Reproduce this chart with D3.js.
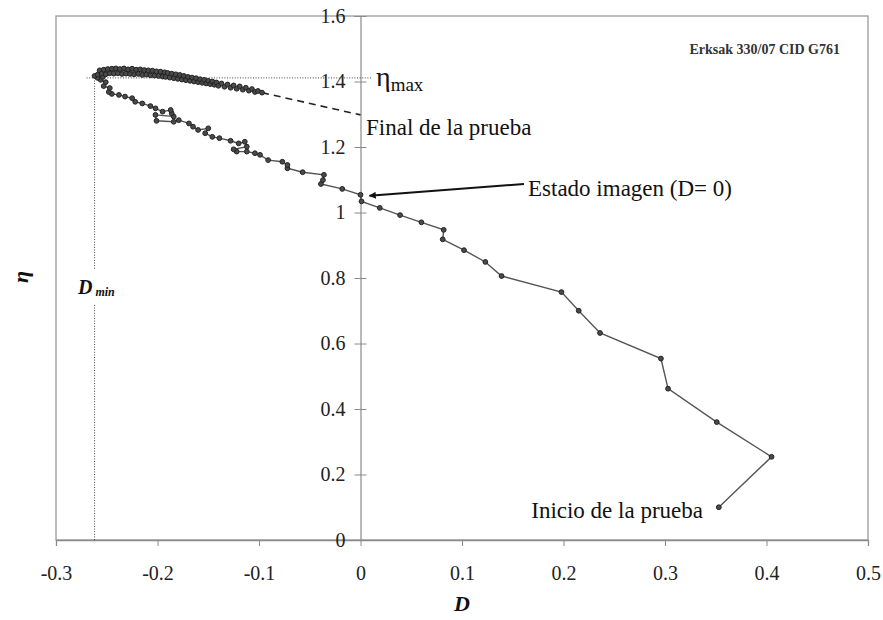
<!DOCTYPE html>
<html lang="es">
<head>
    <meta charset="UTF-8">
    <title>Erksak 330/07 CID G761</title>
    <script src="https://d3js.org/d3.v7.min.js"></script>
    <style>
        body {
            margin: 0;
            background: #fff;
            font-family: "Liberation Serif", "Times New Roman", serif;
        }
        svg text { font-family: "Liberation Serif", "Times New Roman", serif; }
        .axis-lbl { fill: #222; font-size: 20px; }
        .note { fill: #111; font-size: 23px; }
    </style>
</head>
<body>
    <div id="chart"></div>

    <script>
        // Test path, in time order: start -> D min -> end (upper band)
        const dValues = [
            0.353, 0.405, 0.351, 0.303, 0.296, 0.236, 0.215, 0.198, 0.139, 0.123,
            0.102, 0.081, 0.082, 0.060, 0.039, 0.019, 0.001, 0.000, -0.018, -0.039,
            -0.037, -0.036, -0.057, -0.072, -0.072, -0.077, -0.091, -0.099, -0.104, -0.112,
            -0.122, -0.125, -0.112, -0.114, -0.120, -0.128, -0.139, -0.146, -0.153, -0.150,
            -0.160, -0.165, -0.169, -0.179, -0.184, -0.201, -0.202, -0.184, -0.186, -0.187,
            -0.195, -0.202, -0.207, -0.215, -0.222, -0.225, -0.232, -0.238, -0.245, -0.248,
            -0.247, -0.253, -0.251, -0.256, -0.254, -0.259, -0.262,
            -0.259, -0.257, -0.255, -0.253, -0.251, -0.249, -0.247, -0.245, -0.243, -0.241,
            -0.239, -0.237, -0.235, -0.233, -0.231, -0.229, -0.227, -0.225, -0.223, -0.221,
            -0.219, -0.217, -0.215, -0.213, -0.211, -0.209, -0.207, -0.205, -0.203, -0.201,
            -0.199, -0.197, -0.195, -0.193, -0.192, -0.190, -0.188, -0.186, -0.184, -0.182,
            -0.180, -0.178, -0.176, -0.174, -0.172, -0.170, -0.168, -0.166, -0.164, -0.162,
            -0.160, -0.158, -0.156, -0.154, -0.152, -0.150, -0.148, -0.146, -0.144, -0.142,
            -0.140, -0.137, -0.134, -0.131, -0.128, -0.125, -0.122, -0.119, -0.116, -0.113,
            -0.110, -0.107, -0.104, -0.101, -0.097
        ];
        const etaValues = [
            0.100, 0.254, 0.360, 0.462, 0.554, 0.632, 0.700, 0.757, 0.806, 0.849,
            0.885, 0.918, 0.947, 0.970, 0.992, 1.014, 1.034, 1.054, 1.072, 1.087,
            1.099, 1.115, 1.123, 1.135, 1.145, 1.155, 1.160, 1.176, 1.181, 1.186,
            1.186, 1.193, 1.201, 1.216, 1.211, 1.219, 1.227, 1.231, 1.242, 1.257,
            1.252, 1.262, 1.272, 1.282, 1.277, 1.280, 1.298, 1.293, 1.303, 1.313,
            1.308, 1.318, 1.325, 1.333, 1.338, 1.349, 1.354, 1.359, 1.362, 1.368,
            1.380, 1.386, 1.398, 1.405, 1.414, 1.411, 1.417,
            1.421, 1.434, 1.424, 1.436, 1.422, 1.438, 1.425, 1.439, 1.424, 1.440,
            1.425, 1.438, 1.423, 1.440, 1.424, 1.437, 1.423, 1.439, 1.422, 1.436,
            1.423, 1.437, 1.420, 1.435, 1.421, 1.434, 1.419, 1.433, 1.418, 1.431,
            1.417, 1.430, 1.415, 1.428, 1.414, 1.426, 1.412, 1.424, 1.410, 1.422,
            1.408, 1.420, 1.406, 1.417, 1.404, 1.414, 1.402, 1.412, 1.400, 1.410,
            1.398, 1.407, 1.396, 1.405, 1.394, 1.402, 1.392, 1.400, 1.390, 1.397,
            1.387, 1.394, 1.384, 1.391, 1.381, 1.388, 1.378, 1.385, 1.375, 1.381,
            1.372, 1.377, 1.368, 1.371, 1.366
        ];

        const xTicks = [-0.3, -0.2, -0.1, 0, 0.1, 0.2, 0.3, 0.4, 0.5];
        const yTicks = [0, 0.2, 0.4, 0.6, 0.8, 1, 1.2, 1.4, 1.6];

        const dMin = -0.262;
        const etaMax = 1.411;
        const dashEnd = [0, 1.298];   // end of the "Final de la prueba" leader

        const width = 883, height = 620;
        const margin = {top: 16, right: 15, bottom: 80, left: 56};

        const svg = d3.select('#chart').append('svg')
            .attr('width', width)
            .attr('height', height);

        const x = d3.scaleLinear().domain([-0.3, 0.5]).range([margin.left, width - margin.right]);
        const y = d3.scaleLinear().domain([0, 1.6]).range([height - margin.bottom, margin.top]);

        const points = dValues.map((d, i) => [d, etaValues[i]]);

        // plot frame
        svg.append('rect')
            .attr('x', x(-0.3)).attr('y', y(1.6))
            .attr('width', x(0.5) - x(-0.3)).attr('height', y(0) - y(1.6))
            .attr('fill', 'none').attr('stroke', '#9a9a9a').attr('stroke-width', 1.3);

        // x axis
        const gx = svg.append('g')
            .attr('transform', `translate(0,${y(0)})`)
            .call(d3.axisBottom(x).tickValues(xTicks).tickSize(6).tickPadding(20)
                .tickFormat(d => d === 0 ? '0' : d3.format('.1f')(d).replace('−', '-')));
        gx.attr('font-family', null).attr('font-size', null);
        gx.select('.domain').attr('stroke', '#8a8a8a').attr('stroke-width', 1.3);
        gx.selectAll('.tick line').attr('stroke', '#8a8a8a');
        gx.selectAll('.tick text').attr('class', 'axis-lbl');

        // y axis through D = 0, ticks crossing
        const gy = svg.append('g')
            .attr('transform', `translate(${x(0)},0)`)
            .call(d3.axisLeft(y).tickValues(yTicks).tickSize(6).tickPadding(9)
                .tickFormat(d => d === 0 || d === 1 ? String(d) : d3.format('.1f')(d)));
        gy.attr('font-family', null).attr('font-size', null);
        gy.select('.domain').attr('stroke', '#8a8a8a').attr('stroke-width', 1.2);
        gy.selectAll('.tick line').attr('x1', 6).attr('stroke', '#8a8a8a');
        gy.selectAll('.tick text').attr('class', 'axis-lbl');

        // D min / eta max guides
        const guide = (x1, y1, x2, y2) => svg.append('line')
            .attr('x1', x1).attr('y1', y1).attr('x2', x2).attr('y2', y2)
            .attr('stroke', '#444').attr('stroke-width', 1).attr('stroke-dasharray', '1,1.6');
        guide(x(dMin), y(etaMax), x(dMin), 270);
        guide(x(dMin), 305, x(dMin), y(0));
        guide(x(dMin) - 8, y(etaMax), x(0) + 12, y(etaMax));

        // dashed leader to the end of the test
        svg.append('line')
            .attr('x1', x(dValues[dValues.length - 1])).attr('y1', y(etaValues[etaValues.length - 1]))
            .attr('x2', x(dashEnd[0])).attr('y2', y(dashEnd[1]))
            .attr('stroke', '#222').attr('stroke-width', 1.6).attr('stroke-dasharray', '7,5');

        // data path
        svg.append('path')
            .datum(points)
            .attr('fill', 'none')
            .attr('stroke', '#555')
            .attr('stroke-width', 1.4)
            .attr('d', d3.line().x(d => x(d[0])).y(d => y(d[1])));

        svg.append('g').selectAll('circle')
            .data(points)
            .join('circle')
            .attr('cx', d => x(d[0]))
            .attr('cy', d => y(d[1]))
            .attr('r', 2.4)
            .attr('fill', '#4a4a4a')
            .attr('stroke', '#222')
            .attr('stroke-width', 1);

        // arrow to the image state
        svg.append('defs').append('marker')
            .attr('id', 'arr').attr('viewBox', '0 0 10 10')
            .attr('refX', 9).attr('refY', 5)
            .attr('markerWidth', 9).attr('markerHeight', 7)
            .attr('markerUnits', 'userSpaceOnUse')
            .attr('orient', 'auto')
            .append('path').attr('d', 'M0,0 L10,5 L0,10 z').attr('fill', '#111');
        svg.append('line')
            .attr('x1', 524).attr('y1', 184)
            .attr('x2', x(0) + 9).attr('y2', y(1.054) + 1)
            .attr('stroke', '#111').attr('stroke-width', 2)
            .attr('marker-end', 'url(#arr)');

        // annotations
        svg.append('text').attr('class', 'note').attr('x', 528).attr('y', 196).text('Estado imagen (D= 0)');
        svg.append('text').attr('class', 'note').attr('x', 366).attr('y', 135).text('Final de la prueba');
        svg.append('text').attr('class', 'note').attr('x', 703).attr('y', 518)
            .attr('text-anchor', 'end').text('Inicio de la prueba');

        const em = svg.append('text').attr('x', 376).attr('y', 86).attr('fill', '#111');
        em.append('tspan').attr('font-size', 28).text('η');
        em.append('tspan').attr('font-size', 19).attr('dy', 5).text('max');

        const dm = svg.append('text').attr('x', 78).attr('y', 294)
            .attr('font-weight', 'bold').attr('font-style', 'italic').attr('fill', '#111');
        dm.append('tspan').attr('font-size', 20).text('D');
        dm.append('tspan').attr('font-size', 12).attr('dx', 3).attr('dy', 2).text('min');

        svg.append('text').attr('x', 840).attr('y', 54)
            .attr('text-anchor', 'end').attr('font-size', 14).attr('font-weight', 'bold')
            .attr('fill', '#333').text('Erksak 330/07 CID G761');

        // axis titles
        svg.append('text').attr('x', (x(-0.3) + x(0.5)) / 2).attr('y', 611)
            .attr('text-anchor', 'middle').attr('font-size', 22)
            .attr('font-weight', 'bold').attr('font-style', 'italic').attr('fill', '#111').text('D');
        svg.append('text').attr('transform', 'translate(28,277) rotate(-90)')
            .attr('text-anchor', 'middle').attr('font-size', 22)
            .attr('font-weight', 'bold').attr('font-style', 'italic').attr('fill', '#111').text('η');
    </script>
</body>
</html>
